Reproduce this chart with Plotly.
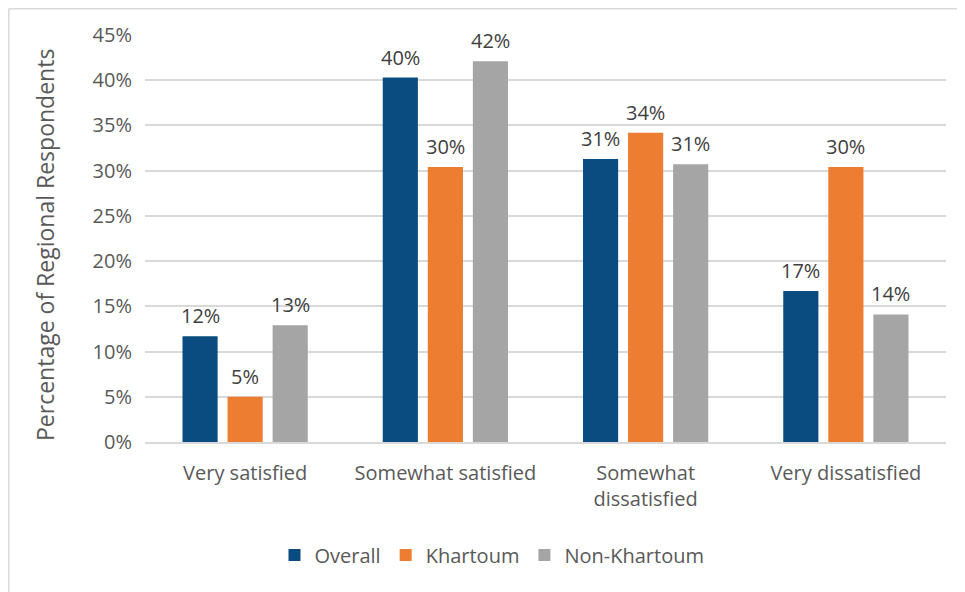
import plotly.graph_objects as go

categories = ["Very satisfied", "Somewhat satisfied", "Somewhat dissatisfied", "Very dissatisfied"]
tick_labels = ["Very satisfied", "Somewhat satisfied", "Somewhat<br>dissatisfied", "Very dissatisfied"]
overall = [11.7, 40.3, 31.3, 16.7]
khartoum = [5.0, 30.4, 34.2, 30.4]
non_khartoum = [12.9, 42.1, 30.7, 14.1]

series = [("Overall", overall, "#0A4C7F"), ("Khartoum", khartoum, "#ED7D31"), ("Non-Khartoum", non_khartoum, "#A5A5A5")]

FONT = "Open Sans"

# page body has an 8px offset; figure coords = screen coords - 8
OFF = 8
W, H = 965, 592
ml, mr, mt, mb = 145 - OFF, 19 + OFF, 35 - OFF, 150 + OFF
pw, ph = W - ml - mr, H - mt - mb
BARGAP = 0.325
slot_px = (1 - BARGAP) * (pw / len(categories)) / len(series)

def sx(px):  # screen px -> paper x
    return (px - OFF - ml) / pw

def sy(py):  # screen px -> paper y
    return (H - mb - (py - OFF)) / ph

fig = go.Figure()
annotations = []
for i, (name, vals, col) in enumerate(series):
    fig.add_trace(go.Bar(
        x=categories, y=vals, name=name, marker_color=col, marker_line_width=0,
    ))
    for c, v in zip(categories, vals):
        annotations.append(dict(
            x=c, y=v, xref="x", yref="y", text=f"{round(v):.0f}%", showarrow=False,
            xanchor="center", yanchor="bottom", xshift=(i - 1) * slot_px, yshift=5,
            font=dict(family=FONT, size=20, color="#404040"),
        ))

annotations.append(dict(text="Percentage of Regional Respondents", xref="paper", yref="paper",
                        x=sx(45), y=sy(245), xanchor="center", yanchor="middle", textangle=-90,
                        showarrow=False, font=dict(family=FONT, size=23, color="#595959")))

fig.update_layout(
    width=W, height=H, margin=dict(l=ml, r=mr, t=mt, b=mb),
    paper_bgcolor="white", plot_bgcolor="white",
    barmode="group", bargap=BARGAP, bargroupgap=0.22,
    font=dict(family=FONT, color="#595959", size=20),
    showlegend=True,
    legend=dict(orientation="h", x=sx(492), xanchor="center", y=sy(555), yanchor="middle",
                font=dict(family=FONT, size=20, color="#595959"), traceorder="normal",
                itemwidth=30),
    xaxis=dict(tickvals=categories, ticktext=tick_labels, showgrid=False, showline=True,
               linecolor="#D9D9D9", linewidth=1.5, ticks="", ticklabelstandoff=12,
               tickfont=dict(family=FONT, size=20, color="#595959")),
    yaxis=dict(range=[0, 45], dtick=5, ticksuffix="%", showgrid=True, gridcolor="#D9D9D9", gridwidth=1.5,
               zeroline=False, showline=False, ticks="", ticklabelstandoff=12,
               tickfont=dict(family=FONT, size=20, color="#595959")),
    annotations=annotations,
    shapes=[
        dict(type="line", xref="paper", yref="paper", x0=sx(8.8), x1=sx(1100),
             y0=sy(8.8), y1=sy(8.8), line=dict(color="#D9D9D9", width=1.5)),
        dict(type="line", xref="paper", yref="paper", x0=sx(8.8), x1=sx(8.8),
             y0=sy(8.8), y1=sy(700), line=dict(color="#D9D9D9", width=1.5)),
    ],
)

fig.write_html("out.html")
